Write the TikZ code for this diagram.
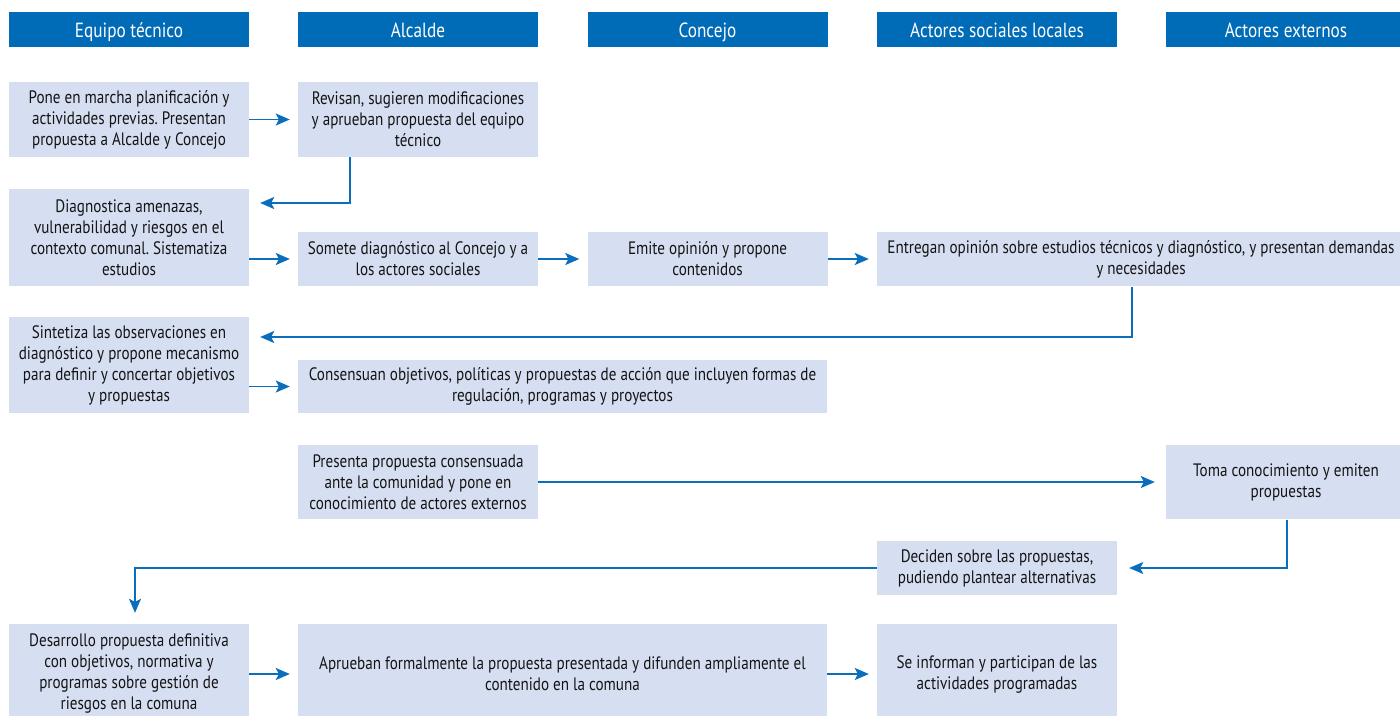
\documentclass[tikz,border=0pt]{standalone}
\usepackage{fontspec}
\setmainfont[FakeStretch=0.84]{PT Sans}
\usetikzlibrary{arrows.meta,calc}
\definecolor{hdrblue}{HTML}{006BB6}
\definecolor{boxfill}{HTML}{D6DEF1}
\definecolor{arrblue}{HTML}{0A6EBD}
\definecolor{txt}{HTML}{141414}
\begin{document}
\frenchspacing
\begin{tikzpicture}[x=1pt,y=-1pt,
  hdr/.style={fill=hdrblue,text=white,inner sep=0pt,align=center,text height=17pt,text depth=1pt,font=\fontsize{20.5}{24}\selectfont},
  box/.style={fill=boxfill,text=txt,inner sep=0pt,align=center,font=\fontsize{18}{21}\selectfont},
  arr/.style={draw=arrblue,line width=1.6pt,-{Stealth[length=14pt,width=12pt,inset=3pt]}},
  gap/.style={shorten >=8pt},
]
\useasboundingbox (0,0) rectangle (1400,715);
% headers
\node[hdr,minimum width=240,minimum height=35] (h1) at (129,29.5) {Equipo técnico};
\node[hdr,minimum width=240,minimum height=35] (h2) at (418,29.5) {Alcalde};
\node[hdr,minimum width=240,minimum height=35] (h3) at (707.5,29.5) {Concejo};
\node[hdr,minimum width=240,minimum height=35] (h4) at (997,29.5) {Actores sociales locales};
\node[hdr,minimum width=240,minimum height=35] (h5) at (1286,29.5) {Actores externos};
% row 1
\node[box,minimum width=240,minimum height=75] (a1) at (129,119.5) {Pone en marcha planificación y\\actividades previas. Presentan\\propuesta a Alcalde y Concejo};
\node[box,minimum width=240,minimum height=75] (b1) at (418,119.5) {Revisan, sugieren modificaciones\\y aprueban propuesta del equipo\\técnico};
% row 2
\node[box,minimum width=240,minimum height=97] (a2) at (129,237.5) {Diagnostica amenazas,\\vulnerabilidad y riesgos en el\\contexto comunal. Sistematiza\\estudios};
\node[box,minimum width=240,minimum height=54] (b2) at (418,259) {Somete diagnóstico al Concejo y a\\los actores sociales};
\node[box,minimum width=240,minimum height=54] (c2) at (707.5,259) {Emite opinión y propone\\contenidos};
\node[box,minimum width=528,minimum height=54] (d2) at (1141,259) {Entregan opinión sobre estudios técnicos y diagnóstico, y presentan demandas\\y necesidades};
% row 3
\node[box,minimum width=240,minimum height=96] (a3) at (129,365) {Sintetiza las observaciones en\\diagnóstico y propone mecanismo\\para definir y concertar objetivos\\y propuestas};
\node[box,minimum width=529,minimum height=53] (b3) at (562.5,386.5) {Consensuan objetivos, políticas y propuestas de acción que incluyen formas de\\regulación, programas y proyectos};
% row 4
\node[box,minimum width=240,minimum height=74] (b4) at (418,482) {Presenta propuesta consensuada\\ante la comunidad y pone en\\conocimiento de actores externos};
\node[box,minimum width=240,minimum height=74] (e4) at (1286,482) {Toma conocimiento y emiten\\propuestas};
% row 5
\node[box,minimum width=240,minimum height=54] (d5) at (997,568) {Deciden sobre las propuestas,\\pudiendo plantear alternativas};
% row 6
\node[box,minimum width=240,minimum height=100] (a6) at (129,674) {Desarrollo propuesta definitiva\\con objetivos, normativa y\\programas sobre gestión de\\riesgos en la comuna};
\node[box,minimum width=529,minimum height=100] (b6) at (562.5,674) {Aprueban formalmente la propuesta presentada y difunden ampliamente el\\contenido en la comuna};
\node[box,minimum width=240,minimum height=100] (d6) at (997,674) {Se informan y participan de las\\actividades programadas};
% connectors
\draw[arr,gap] (a1) -- (b1);
\draw[arr,shorten >=11pt] ([xshift=-68pt]b1.south) |- ($(a2.east)+(0,-34.5)$);
\draw[arr,gap] (a2.east |- b2) -- (b2);
\draw[arr,gap] (b2) -- (c2);
\draw[arr,gap] (c2) -- (d2);
\draw[arr,shorten >=11pt] ([xshift=-9pt,yshift=-1pt]d2.south) |- ($(a3.east)+(0,-28)$);
\draw[arr,gap] (a3.east |- b3) -- (b3);
\draw[arr,shorten >=11pt] (b4) -- (e4);
\draw[arr,shorten >=12pt] ([xshift=1pt,yshift=-1pt]e4.south) |- (d5.east);
\draw[arr,shorten >=11pt] (d5.west) -| ([xshift=6pt]a6.north);
\draw[arr,gap] (a6) -- (b6);
\draw[arr,gap] (b6) -- (d6);
\end{tikzpicture}
\end{document}
